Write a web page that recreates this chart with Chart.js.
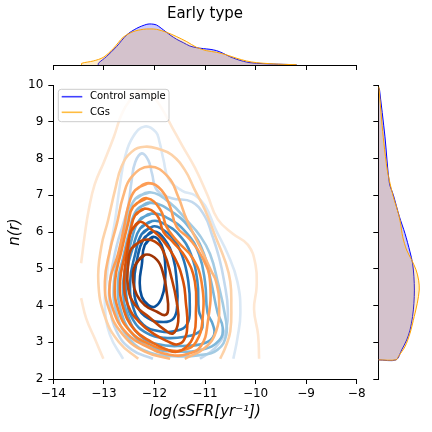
<!DOCTYPE html>
<html><head><meta charset="utf-8">
<script src="https://cdn.jsdelivr.net/npm/chart.js@4.4.1/dist/chart.umd.min.js"></script>
<style>
html,body{margin:0;padding:0;background:#fff;}
#wrap{position:relative;width:432px;height:432px;overflow:hidden;background:#fff;}
canvas{position:absolute;}
#main{left:0;top:0;width:432px;height:432px;}
#top{left:0;top:0;width:432px;height:75px;}
#right{left:370px;top:0;width:62px;height:432px;}
</style></head><body>
<div id="wrap">
<canvas id="main" width="432" height="432"></canvas>
<canvas id="top" width="432" height="75"></canvas>
<canvas id="right" width="62" height="432"></canvas>
</div>
<script>
// ---------- data ----------
const titleText = 'Early type';
const seriesNames = ['Control sample', 'CGs'];
const xTickValues = [-14, -13, -12, -11, -10, -9, -8];
const yTickValues = [2, 3, 4, 5, 6, 7, 8, 9, 10];
const xAxisTitle = 'log(sSFR[yr\u207B\u00B9])';
const yAxisTitle = 'n(r)';

// top marginal KDE of log(sSFR)
const controlSsfrX = [-13.11,-13.11,-12.95,-12.75,-12.55,-12.35,-12.15,-12.06,-11.96,-11.82,-11.69,-11.56,-11.43,-11.30,-11.17,-11.03,-10.90,-10.77,-10.64,-10.51,-10.37,-10.24,-10.11,-9.85,-9.45,-9.19];
const controlSsfrD = [0,0.029,0.143,0.315,0.515,0.630,0.699,0.704,0.687,0.601,0.515,0.441,0.384,0.326,0.298,0.281,0.269,0.246,0.200,0.143,0.097,0.063,0.040,0.023,0.011,0.006];
const cgSsfrX = [-13.44,-13.44,-13.21,-13.01,-12.81,-12.62,-12.42,-12.22,-12.09,-11.96,-11.76,-11.56,-11.36,-11.17,-10.97,-10.77,-10.57,-10.37,-10.18,-9.98,-9.72,-9.45,-9.19];
const cgSsfrD = [0,0.029,0.069,0.132,0.286,0.475,0.573,0.613,0.619,0.613,0.561,0.487,0.401,0.304,0.246,0.218,0.172,0.115,0.069,0.040,0.023,0.011,0.006];

// right marginal KDE of n(r)
const controlNY = [9.91,8.59,7.33,7.01,6.42,5.96,5.46,5.15,4.78,4.42,4.06,3.70,3.33,3.06,2.79,2.52,2.52];
const controlND = [0.007,0.044,0.073,0.099,0.139,0.176,0.209,0.226,0.235,0.238,0.235,0.226,0.209,0.187,0.154,0.117,0];
const cgNY = [9.95,9.05,8.41,7.69,7.33,6.96,6.51,6.23,5.87,5.51,5.24,4.97,4.69,4.42,4.06,3.70,3.24,2.88,2.61,2.52,2.52];
const cgND = [0.004,0.022,0.037,0.059,0.077,0.099,0.132,0.147,0.161,0.187,0.220,0.249,0.266,0.270,0.257,0.237,0.209,0.176,0.132,0.117,0];

// joint KDE contours (log sSFR, n) – CGs, outer (level 1) to inner (level 9)
const cgContour1a = [[-13.45,5.15],[-13.38,5.9],[-13.3,6.6],[-13.18,7.3],[-13.0,7.9],[-12.8,8.6],[-12.65,9.2],[-12.47,9.62],[-12.28,9.85],[-12.05,9.72],[-11.85,9.35],[-11.65,8.85],[-11.45,8.35],[-11.2,7.75],[-10.95,7.0],[-10.75,6.35],[-10.45,5.95],[-10.15,5.65],[-10.0,5.1],[-9.98,4.5],[-10.03,3.9],[-9.95,3.2],[-9.93,2.55]];
const cgContour1b = [[-13.45,4.2],[-13.35,3.65],[-13.18,3.1],[-13.01,2.55]];
const cgContour2 = [[-12.32,2.55],[-12.7,3.0],[-12.98,3.7],[-13.11,4.65],[-13.05,5.6],[-12.92,6.3],[-12.78,7.14],[-12.65,7.78],[-12.45,8.18],[-12.19,8.32],[-11.9,8.25],[-11.66,8.1],[-11.4,7.69],[-11.2,7.14],[-11.0,6.6],[-10.8,5.9],[-10.6,5.2],[-10.5,4.65],[-10.48,4.0],[-10.5,3.3],[-10.6,2.85],[-10.7,2.55]];
const cgContour3 = [[-11.69,2.55],[-12.2,2.75],[-12.62,3.2],[-12.9,3.9],[-12.98,4.65],[-12.88,5.5],[-12.74,6.24],[-12.62,6.96],[-12.45,7.5],[-12.09,7.78],[-11.73,7.5],[-11.53,6.96],[-11.36,6.33],[-11.1,5.6],[-10.88,4.95],[-10.78,4.65],[-10.72,4.0],[-10.78,3.3],[-11.0,2.85],[-11.4,2.55]];
const cgContour4 = [[-12.12,7.33],[-12.38,7.14],[-12.52,6.69],[-12.6,6.14],[-12.72,5.4],[-12.88,4.65],[-12.82,3.9],[-12.55,3.25],[-12.1,2.85],[-11.7,2.66],[-11.35,2.68],[-11.08,2.9],[-10.95,3.5],[-10.9,4.65],[-11.05,5.3],[-11.3,5.8],[-11.56,6.14],[-11.69,6.69],[-11.86,7.14],[-12.12,7.33]];
const cgContour5 = [[-12.15,6.92],[-12.42,6.69],[-12.52,6.24],[-12.65,5.5],[-12.78,4.65],[-12.72,3.9],[-12.48,3.3],[-12.1,2.95],[-11.7,2.78],[-11.4,2.8],[-11.18,3.0],[-11.05,3.6],[-11.07,4.65],[-11.25,5.3],[-11.55,5.75],[-11.76,6.14],[-11.88,6.6],[-12.15,6.92]];
const cgContour6 = [[-12.19,6.64],[-12.38,6.46],[-12.48,6.0],[-12.58,5.4],[-12.68,4.65],[-12.62,3.95],[-12.4,3.35],[-12.05,3.0],[-11.75,2.8],[-11.56,2.74],[-11.38,2.86],[-11.22,3.2],[-11.18,3.8],[-11.2,4.65],[-11.38,5.3],[-11.65,5.75],[-11.82,6.0],[-11.95,6.46],[-12.19,6.64]];
const cgContour7 = [[-12.29,6.28],[-12.45,6.05],[-12.52,5.6],[-12.6,4.65],[-12.52,4.0],[-12.3,3.55],[-11.98,3.2],[-11.7,3.0],[-11.56,2.94],[-11.42,3.05],[-11.35,3.45],[-11.38,4.1],[-11.43,4.65],[-11.6,5.3],[-11.85,5.8],[-12.09,6.1],[-12.29,6.28]];
const cgContour8 = [[-12.22,5.78],[-12.45,5.56],[-12.52,5.1],[-12.52,4.47],[-12.38,4.01],[-12.12,3.7],[-11.79,3.33],[-11.63,3.24],[-11.53,3.56],[-11.56,4.1],[-11.66,4.74],[-11.82,5.46],[-11.99,5.74],[-12.22,5.78]];
const cgContour9 = [[-12.19,5.38],[-12.38,5.1],[-12.42,4.65],[-12.35,4.29],[-12.19,4.01],[-11.95,3.83],[-11.79,3.74],[-11.73,3.88],[-11.76,4.38],[-11.82,4.83],[-11.95,5.24],[-12.19,5.38]];

// joint KDE contours – control sample, outer (level 1) to inner (level 9)
const controlContour1 = [[-12.62,2.55],[-12.88,3.2],[-12.98,4.0],[-12.95,4.65],[-12.88,5.5],[-12.78,6.3],[-12.68,7.3],[-12.58,8.05],[-12.42,8.6],[-12.19,8.87],[-11.97,8.72],[-11.9,8.45],[-11.82,7.96],[-11.72,7.45],[-11.45,7.12],[-11.2,7.0],[-11.0,6.72],[-10.8,6.1],[-10.55,5.4],[-10.36,4.65],[-10.3,3.8],[-10.36,3.1],[-10.44,2.55]];
const controlContour2 = [[-12.03,2.55],[-12.45,2.8],[-12.75,3.3],[-12.88,4.0],[-12.88,4.65],[-12.75,5.6],[-12.6,6.3],[-12.52,6.69],[-12.45,7.41],[-12.38,7.9],[-12.25,8.14],[-12.12,7.95],[-12.05,7.6],[-11.95,7.14],[-11.66,6.92],[-11.26,6.82],[-11.0,6.42],[-10.87,5.96],[-10.72,5.3],[-10.62,4.65],[-10.55,3.9],[-10.6,3.3],[-10.8,2.85],[-11.1,2.55]];
const controlContour3 = [[-12.09,7.08],[-12.38,6.9],[-12.55,6.3],[-12.68,5.5],[-12.8,4.65],[-12.75,3.8],[-12.5,3.1],[-12.1,2.72],[-11.6,2.62],[-11.1,2.65],[-10.75,2.8],[-10.58,3.2],[-10.6,3.7],[-10.75,4.65],[-10.9,5.4],[-11.1,5.9],[-11.35,6.3],[-11.7,6.8],[-12.09,7.08]];
const controlContour4 = [[-12.08,6.8],[-12.35,6.6],[-12.5,6.0],[-12.62,5.3],[-12.72,4.65],[-12.66,3.85],[-12.42,3.2],[-12.05,2.85],[-11.55,2.75],[-11.05,2.8],[-10.72,3.05],[-10.65,3.4],[-10.75,3.8],[-10.88,4.65],[-11.02,5.4],[-11.25,6.0],[-11.6,6.5],[-12.08,6.8]];
const controlContour5 = [[-12.06,6.5],[-12.3,6.32],[-12.45,5.8],[-12.58,5.0],[-12.62,4.4],[-12.52,3.7],[-12.3,3.2],[-11.95,2.95],[-11.45,2.9],[-11.0,2.98],[-10.82,3.2],[-10.85,3.5],[-10.95,3.8],[-11.0,4.65],[-11.12,5.4],[-11.35,5.95],[-11.7,6.35],[-12.06,6.5]];
const controlContour6 = [[-12.04,6.3],[-12.28,6.1],[-12.42,5.6],[-12.55,4.9],[-12.55,4.2],[-12.42,3.6],[-12.15,3.25],[-11.8,3.12],[-11.4,3.15],[-11.1,3.3],[-11.05,3.55],[-11.12,3.85],[-11.15,4.65],[-11.28,5.4],[-11.5,5.9],[-11.78,6.2],[-12.04,6.3]];
const controlContour7 = [[-12.03,6.15],[-12.25,5.95],[-12.38,5.4],[-12.48,4.65],[-12.42,3.95],[-12.22,3.48],[-11.9,3.3],[-11.55,3.32],[-11.35,3.5],[-11.3,3.95],[-11.33,4.65],[-11.45,5.35],[-11.65,5.85],[-11.85,6.08],[-12.03,6.15]];
const controlContour8 = [[-12.02,6.02],[-12.22,5.8],[-12.35,5.2],[-12.4,4.6],[-12.34,4.0],[-12.12,3.65],[-11.82,3.55],[-11.62,3.65],[-11.55,4.0],[-11.56,4.65],[-11.63,5.3],[-11.8,5.8],[-12.02,6.02]];
const controlContour9 = [[-12.02,5.87],[-12.19,5.65],[-12.25,5.1],[-12.29,4.65],[-12.25,4.24],[-12.12,4.01],[-11.99,3.97],[-11.86,4.2],[-11.79,4.65],[-11.79,5.19],[-11.86,5.65],[-12.02,5.87]];

// ---------- styles ----------
const orangeShades = ['#fee7d2','#fdd2a8','#fdb77b','#fd9d55','#f8842f','#ea6716','#d64f07','#bb4104','#a03404'];
const blueShades = ['#dae8f5','#c3d9ee','#a3cbe3','#80b8da','#5ea4d0','#3f8dc4','#2574b7','#135ea6','#084f9a'];
const legendColors = ['rgba(0,0,255,0.75)', 'rgba(255,165,0,0.75)'];

Chart.defaults.font.family = "'DejaVu Sans', 'Liberation Sans', sans-serif";
Chart.defaults.color = '#000';

const cgContours = [[cgContour1a, cgContour1b], [cgContour2], [cgContour3], [cgContour4], [cgContour5], [cgContour6], [cgContour7], [cgContour8], [cgContour9]];
const controlContours = [[controlContour1], [controlContour2], [controlContour3], [controlContour4], [controlContour5], [controlContour6], [controlContour7], [controlContour8], [controlContour9]];

function toPts(arr) {
  let pts = arr.map(p => ({x: p[0], y: p[1]}));
  const f = arr[0], l = arr[arr.length - 1];
  if (arr.length > 3 && f[0] === l[0] && f[1] === l[1]) pts.push({x: arr[1][0], y: arr[1][1]});
  return pts;
}
function contourSets(levels, shades) {
  const out = [];
  for (let i = levels.length - 1; i >= 0; i--) {
    levels[i].forEach(seg => out.push({
      data: toPts(seg), showLine: true, fill: false, borderColor: shades[i], borderWidth: 2.6,
      pointRadius: 0, tension: 0.45, borderCapStyle: 'butt', borderJoinStyle: 'round'
    }));
  }
  return out;
}
const jointSets = contourSets(cgContours, orangeShades).concat(contourSets(controlContours, blueShades));
const fmt = v => String(v).replace('-', '\u2212');

function roundRectPath(ctx, x, y, w, h, r) {
  ctx.beginPath();
  ctx.moveTo(x + r, y); ctx.lineTo(x + w - r, y); ctx.arcTo(x + w, y, x + w, y + r, r);
  ctx.lineTo(x + w, y + h - r); ctx.arcTo(x + w, y + h, x + w - r, y + h, r);
  ctx.lineTo(x + r, y + h); ctx.arcTo(x, y + h, x, y + h - r, r);
  ctx.lineTo(x, y + r); ctx.arcTo(x, y, x + r, y, r); ctx.closePath();
}
// legend drawn over the contours (upper left, semi-opaque frame)
const legendBox = {
  id: 'legendBox',
  afterDatasetsDraw(chart) {
    const a = chart.chartArea, ctx = chart.ctx;
    ctx.save();
    roundRectPath(ctx, a.left + 5, a.top + 4.3, 110.7, 32.4, 3);
    ctx.fillStyle = 'rgba(255,255,255,0.8)'; ctx.fill();
    ctx.strokeStyle = '#cccccc'; ctx.lineWidth = 1; ctx.stroke();
    ctx.font = "10px 'DejaVu Sans', sans-serif";
    ctx.textBaseline = 'middle'; ctx.textAlign = 'left';
    seriesNames.forEach((t, i) => {
      const y = a.top + 11.7 + i * 15.6;
      ctx.strokeStyle = legendColors[i]; ctx.lineWidth = 1.6;
      ctx.beginPath(); ctx.moveTo(a.left + 8.4, y); ctx.lineTo(a.left + 29, y); ctx.stroke();
      ctx.fillStyle = '#000'; ctx.fillText(t, a.left + 36.7, y);
    });
    ctx.restore();
  }
};

new Chart(document.getElementById('main'), {
  type: 'scatter',
  data: {datasets: jointSets},
  options: {
    responsive: false, animation: false, events: [],
    layout: {padding: {left: 0, top: 85, right: 75.3, bottom: 0}},
    scales: {
      x: {
        type: 'linear', min: -14, max: -8,
        afterBuildTicks(s) { s.ticks = xTickValues.map(v => ({value: v})); },
        afterFit(s) { s.height = 53; },
        ticks: {font: {size: 12}, color: '#000', padding: 3, maxRotation: 0, autoSkip: false, callback: v => fmt(v)},
        grid: {display: true, drawOnChartArea: false, drawTicks: true, tickLength: 5, color: '#000'},
        border: {display: true, color: '#000', width: 1},
        title: {display: true, text: xAxisTitle, font: {size: 15, style: 'italic'}, color: '#000', padding: {top: 0, bottom: 11}}
      },
      y: {
        type: 'linear', min: 2, max: 10,
        afterBuildTicks(s) { s.ticks = yTickValues.map(v => ({value: v})); },
        afterFit(s) { s.width = 53.3; },
        ticks: {font: {size: 12}, color: '#000', padding: 5, autoSkip: false, callback: v => fmt(v)},
        grid: {display: true, drawOnChartArea: false, drawTicks: true, tickLength: 5, color: '#000'},
        border: {display: true, color: '#000', width: 1},
        title: {display: true, text: yAxisTitle, font: {size: 15, style: 'italic'}, color: '#000', padding: {top: 6, bottom: 0}}
      }
    },
    plugins: {tooltip: {enabled: false}, legend: {display: false}}
  },
  plugins: [legendBox]
});

new Chart(document.getElementById('top'), {
  type: 'line',
  data: {datasets: [
    {data: cgSsfrX.map((x, i) => ({x, y: cgSsfrD[i]})), borderColor: '#ffa500', backgroundColor: 'rgba(255,165,0,0.2)', fill: 'origin', borderWidth: 1, pointRadius: 0, tension: 0.3},
    {data: controlSsfrX.map((x, i) => ({x, y: controlSsfrD[i]})), borderColor: '#0000ff', backgroundColor: 'rgba(0,0,255,0.21)', fill: 'origin', borderWidth: 1, pointRadius: 0, tension: 0.3}
  ]},
  options: {
    responsive: false, animation: false, events: [],
    layout: {padding: {left: 53.3, right: 75.3, top: 0, bottom: 0}},
    scales: {
      x: {
        type: 'linear', min: -14, max: -8,
        afterBuildTicks(s) { s.ticks = xTickValues.map(v => ({value: v})); },
        afterFit(s) { s.height = 10; },
        ticks: {display: false},
        grid: {display: true, drawOnChartArea: false, drawTicks: true, tickLength: 5, color: '#000'},
        border: {display: true, color: '#000', width: 1}
      },
      y: {type: 'linear', display: false, min: 0, max: 0.721}
    },
    plugins: {
      tooltip: {enabled: false}, legend: {display: false},
      title: {display: true, text: titleText, font: {size: 15, weight: 'normal'}, color: '#000', padding: {top: 5, bottom: 0}}
    }
  }
});

new Chart(document.getElementById('right'), {
  type: 'line',
  data: {datasets: [
    {data: cgNY.map((y, i) => ({x: cgND[i], y})), borderColor: '#ffa500', backgroundColor: 'rgba(255,165,0,0.2)', fill: 'origin', borderWidth: 1, pointRadius: 0, tension: 0.3},
    {data: controlNY.map((y, i) => ({x: controlND[i], y})), borderColor: '#0000ff', backgroundColor: 'rgba(0,0,255,0.21)', fill: 'origin', borderWidth: 1, pointRadius: 0, tension: 0.3}
  ]},
  options: {
    indexAxis: 'y',
    responsive: false, animation: false, events: [],
    layout: {padding: {left: 0, right: 7, top: 85, bottom: 53}},
    scales: {
      x: {type: 'linear', display: false, min: 0, max: 0.308},
      y: {
        type: 'linear', min: 2, max: 10,
        afterBuildTicks(s) { s.ticks = yTickValues.map(v => ({value: v})); },
        afterFit(s) { s.width = 8.3; },
        ticks: {display: false},
        grid: {display: true, drawOnChartArea: false, drawTicks: true, tickLength: 5, color: '#000'},
        border: {display: true, color: '#000', width: 1}
      }
    },
    plugins: {tooltip: {enabled: false}, legend: {display: false}}
  }
});
</script>
</body></html>
